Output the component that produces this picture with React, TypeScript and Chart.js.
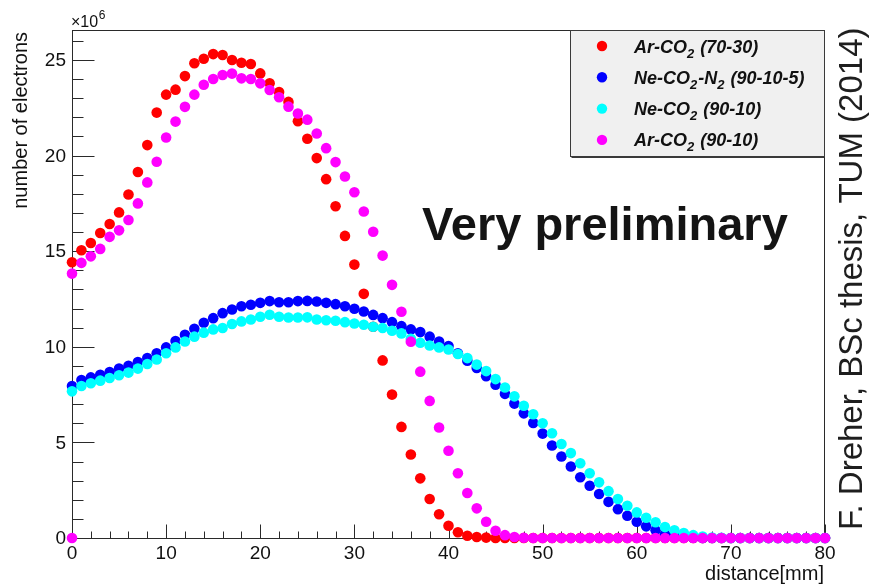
import { useEffect, useRef } from 'react';
import { Chart, registerables } from 'chart.js';

Chart.register(...registerables);

// Drift distance of each bin [mm]
const distanceMm = [
  0, 1, 2, 3, 4, 5, 6, 7, 8, 9, 10, 11, 12, 13, 14, 15, 16, 17, 18, 19, 20,
  21, 22, 23, 24, 25, 26, 27, 28, 29, 30, 31, 32, 33, 34, 35, 36, 37, 38, 39, 40,
  41, 42, 43, 44, 45, 46, 47, 48, 49, 50, 51, 52, 53, 54, 55, 56, 57, 58, 59, 60,
  61, 62, 63, 64, 65, 66, 67, 68, 69, 70, 71, 72, 73, 74, 75, 76, 77, 78, 79, 80,
];

// Number of electrons per bin, in units of 10^6
const arCo2_7030 = [
  14.42, 15.05, 15.43, 15.95, 16.42, 17.03, 17.97, 19.14, 20.55, 22.25, 23.19,
  23.45, 24.16, 24.83, 25.07, 25.31, 25.26, 25.0, 24.86, 24.79, 24.3,
  23.78, 23.33, 22.81, 21.8, 20.88, 19.87, 18.77, 17.35, 15.8, 14.3,
  12.77, 11.05, 9.29, 7.5, 5.81, 4.37, 3.12, 2.04, 1.24, 0.64,
  0.3, 0.12, 0.05, 0.02, 0, 0, 0, 0, 0, 0,
  0, 0, 0, 0, 0, 0, 0, 0, 0, 0,
  0, 0, 0, 0, 0, 0, 0, 0, 0, 0,
  0, 0, 0, 0, 0, 0, 0, 0, 0, 0,
];

const neCo2N2_90105 = [
  7.95, 8.26, 8.4, 8.54, 8.68, 8.86, 9.01, 9.2, 9.41, 9.66, 9.97,
  10.3, 10.63, 10.94, 11.26, 11.5, 11.76, 11.95, 12.12, 12.2, 12.3,
  12.39, 12.33, 12.33, 12.39, 12.4, 12.37, 12.3, 12.23, 12.12, 11.99,
  11.85, 11.67, 11.5, 11.29, 11.08, 10.91, 10.77, 10.53, 10.28, 10.04,
  9.66, 9.27, 8.89, 8.46, 8.02, 7.54, 7.03, 6.52, 6.02, 5.46,
  4.84, 4.26, 3.74, 3.18, 2.73, 2.3, 1.89, 1.51, 1.16, 0.85,
  0.61, 0.4, 0.2, 0.1, 0.04, 0.01, 0, 0, 0, 0,
  0, 0, 0, 0, 0, 0, 0, 0, 0, 0,
];

const neCo2_9010 = [
  7.67, 7.95, 8.09, 8.23, 8.37, 8.51, 8.65, 8.86, 9.1, 9.34, 9.66,
  9.97, 10.28, 10.53, 10.74, 10.91, 10.98, 11.19, 11.33, 11.43, 11.57,
  11.68, 11.57, 11.53, 11.53, 11.54, 11.43, 11.39, 11.36, 11.29, 11.22,
  11.15, 11.05, 10.98, 10.84, 10.7, 10.42, 10.21, 10.07, 9.97, 9.86,
  9.62, 9.41, 9.07, 8.73, 8.31, 7.87, 7.41, 6.92, 6.47, 6.0,
  5.48, 4.92, 4.44, 3.91, 3.39, 2.91, 2.45, 2.04, 1.69, 1.34,
  1.06, 0.82, 0.57, 0.4, 0.26, 0.15, 0.08, 0.03, 0.01, 0,
  0, 0, 0, 0, 0, 0, 0, 0, 0, 0,
];

const arCo2_9010 = [
  13.83, 14.39, 14.73, 15.12, 15.75, 16.09, 16.63, 17.5, 18.6, 19.68, 20.95,
  21.78, 22.55, 23.19, 23.71, 24.01, 24.22, 24.29, 24.04, 24.01, 23.78,
  23.43, 23.05, 22.56, 22.2, 21.88, 21.16, 20.39, 19.66, 18.91, 18.08,
  17.08, 16.02, 14.77, 13.24, 11.83, 10.27, 8.7, 7.17, 5.78, 4.56,
  3.39, 2.35, 1.55, 0.85, 0.38, 0.15, 0.05, 0.01, 0, 0,
  0, 0, 0, 0, 0, 0, 0, 0, 0, 0,
  0, 0, 0, 0, 0, 0, 0, 0, 0, 0,
  0, 0, 0, 0, 0, 0, 0, 0, 0, 0,
];
// The Ar-CO2 (90-10) graph also carries a point at the origin
const arCo2_9010_origin = { distance: 0, electrons: 0 };

// Axis ticks
const xMajorTicks = [0, 10, 20, 30, 40, 50, 60, 70, 80];
const xTickLabels = ['0', '10', '20', '30', '40', '50', '60', '70', '80'];
const xMinorStep = 2;
const yMajorTicks = [0, 5, 10, 15, 20, 25];
const yTickLabels = ['0', '5', '10', '15', '20', '25'];
const yMinorStep = 1;
const yAxisMax = 26.57;

const SANS = '"Liberation Sans", Arial, Helvetica, sans-serif';

const toPoints = (vals: number[]) => distanceMm.map((d, i) => ({ x: d, y: vals[i] }));

// ROOT-style frame with inward ticks, titles and legend box
const rootStyle = {
  id: 'rootStyle',
  beforeDatasetsDraw(chart: any) {
    const { ctx, chartArea: a, scales } = chart;
    const xs = scales.x;
    const ys = scales.y;
    const L = Math.round(a.left) + 0.5;
    const R = Math.round(a.right) - 0.5;
    const T = Math.round(a.top) + 0.5;
    const B = Math.round(a.bottom) + 0.5;
    ctx.save();
    ctx.strokeStyle = '#2a2a2a';
    ctx.lineWidth = 1;
    ctx.strokeRect(L, T, R - L, B - T);

    ctx.beginPath();
    // x ticks (pointing up into the frame)
    for (let v = xs.min; v <= xs.max + 1e-9; v += xMinorStep) {
      const px = Math.round(xs.getPixelForValue(v)) + 0.5;
      const major = xMajorTicks.includes(v);
      ctx.moveTo(px, B);
      ctx.lineTo(px, B - (major ? 14 : 7));
    }
    // y ticks (pointing right into the frame)
    for (let v = ys.min; v <= ys.max + 1e-9; v += yMinorStep) {
      const py = Math.round(ys.getPixelForValue(v)) + 0.5;
      const major = yMajorTicks.includes(v);
      ctx.moveTo(L, py);
      ctx.lineTo(L + (major ? 22 : 11), py);
    }
    ctx.stroke();

    // tick labels
    ctx.fillStyle = '#111';
    ctx.font = `19px ${SANS}`;
    ctx.textAlign = 'center';
    ctx.textBaseline = 'alphabetic';
    xMajorTicks.forEach((v, i) => {
      ctx.fillText(xTickLabels[i], xs.getPixelForValue(v), 559);
    });
    ctx.textAlign = 'right';
    ctx.textBaseline = 'middle';
    yMajorTicks.forEach((v, i) => {
      ctx.fillText(yTickLabels[i], 66, ys.getPixelForValue(v) + 1);
    });

    // exponent marker
    ctx.textAlign = 'left';
    ctx.textBaseline = 'alphabetic';
    ctx.font = `16px ${SANS}`;
    ctx.fillText('×10', 71, 27);
    const w = ctx.measureText('×10').width;
    ctx.font = `12px ${SANS}`;
    ctx.fillText('6', 71 + w + 0.5, 19);

    // axis titles
    ctx.font = `20px ${SANS}`;
    ctx.textAlign = 'right';
    ctx.fillText('distance[mm]', 824, 580);
    ctx.save();
    ctx.translate(27, 32);
    ctx.rotate(-Math.PI / 2);
    ctx.textAlign = 'right';
    ctx.fillText('number of electrons', 0, 0);
    ctx.restore();
    ctx.restore();
  },
  afterDraw(chart: any) {
    const { ctx } = chart;
    ctx.save();
    // legend box
    const lx = 570.5, ly = 30.5, lr = 824.5, lb = 156.5;
    ctx.fillStyle = '#f0f0f0';
    ctx.fillRect(lx, ly, lr - lx, lb - ly);
    ctx.strokeStyle = '#3a3a3a';
    ctx.lineWidth = 1;
    ctx.strokeRect(lx, ly, lr - lx, lb - ly);
    ctx.beginPath();
    ctx.moveTo(lx + 1, lb + 1);
    ctx.lineTo(lr, lb + 1);
    ctx.stroke();

    const mainFont = `italic bold 18px ${SANS}`;
    const subFont = `italic bold 13px ${SANS}`;
    chart.data.datasets.forEach((ds: any, i: number) => {
      const cy = 46 + i * 31.3;
      ctx.fillStyle = ds.backgroundColor;
      ctx.beginPath();
      ctx.arc(602, cy, 5.2, 0, Math.PI * 2);
      ctx.fill();
      ctx.fillStyle = '#111';
      ctx.textAlign = 'left';
      ctx.textBaseline = 'alphabetic';
      const parts = String(ds.label).split('₂');
      let x = 634;
      const base = cy + 6.5;
      parts.forEach((p, k) => {
        ctx.font = mainFont;
        ctx.fillText(p, x, base);
        x += ctx.measureText(p).width;
        if (k < parts.length - 1) {
          ctx.font = subFont;
          ctx.fillText('2', x, base + 5);
          x += ctx.measureText('2').width + 1;
        }
      });
    });

    // annotations
    ctx.fillStyle = '#141414';
    ctx.font = `bold 47px ${SANS}`;
    ctx.textAlign = 'left';
    ctx.fillText('Very preliminary', 422, 240);

    ctx.fillStyle = '#1e1e1e';
    ctx.font = `33px ${SANS}`;
    ctx.translate(862, 530);
    ctx.rotate(-Math.PI / 2);
    ctx.fillText('F. Dreher, BSc thesis, TUM (2014)', 0, 0);
    ctx.restore();
  },
};

export default function App() {
  const canvasRef = useRef<HTMLCanvasElement | null>(null);

  useEffect(() => {
    const canvas = canvasRef.current;
    if (!canvas) return;
    const common = {
      showLine: false,
      pointRadius: 5.3,
      pointHoverRadius: 5.3,
      pointBorderWidth: 0,
      clip: false as const,
    };
    const chart = new Chart(canvas, {
      type: 'scatter',
      data: {
        datasets: [
          {
            ...common,
            label: 'Ar-CO₂ (70-30)',
            data: toPoints(arCo2_7030),
            backgroundColor: '#ff0000',
            borderColor: '#ff0000',
            order: 4,
          },
          {
            ...common,
            label: 'Ne-CO₂-N₂ (90-10-5)',
            data: toPoints(neCo2N2_90105),
            backgroundColor: '#0000ff',
            borderColor: '#0000ff',
            order: 3,
          },
          {
            ...common,
            label: 'Ne-CO₂ (90-10)',
            data: toPoints(neCo2_9010),
            backgroundColor: '#00ffff',
            borderColor: '#00ffff',
            order: 2,
          },
          {
            ...common,
            label: 'Ar-CO₂ (90-10)',
            data: [
              { x: arCo2_9010_origin.distance, y: arCo2_9010_origin.electrons },
              ...toPoints(arCo2_9010),
            ],
            backgroundColor: '#ff00ff',
            borderColor: '#ff00ff',
            order: 1,
          },
        ],
      },
      options: {
        responsive: false,
        animation: false,
        layout: { padding: { left: 72, top: 30, right: 45, bottom: 46 } },
        plugins: {
          legend: { display: false },
          tooltip: { enabled: false },
        },
        scales: {
          x: { type: 'linear', min: 0, max: 80, display: false },
          y: { type: 'linear', min: 0, max: yAxisMax, display: false },
        },
      },
      plugins: [rootStyle],
    });
    return () => chart.destroy();
  }, []);

  return (
    <div style={{ position: 'absolute', left: 0, top: 0, width: 870, height: 584, background: '#fff' }}>
      <canvas ref={canvasRef} width={870} height={584} style={{ display: 'block' }} />
    </div>
  );
}
